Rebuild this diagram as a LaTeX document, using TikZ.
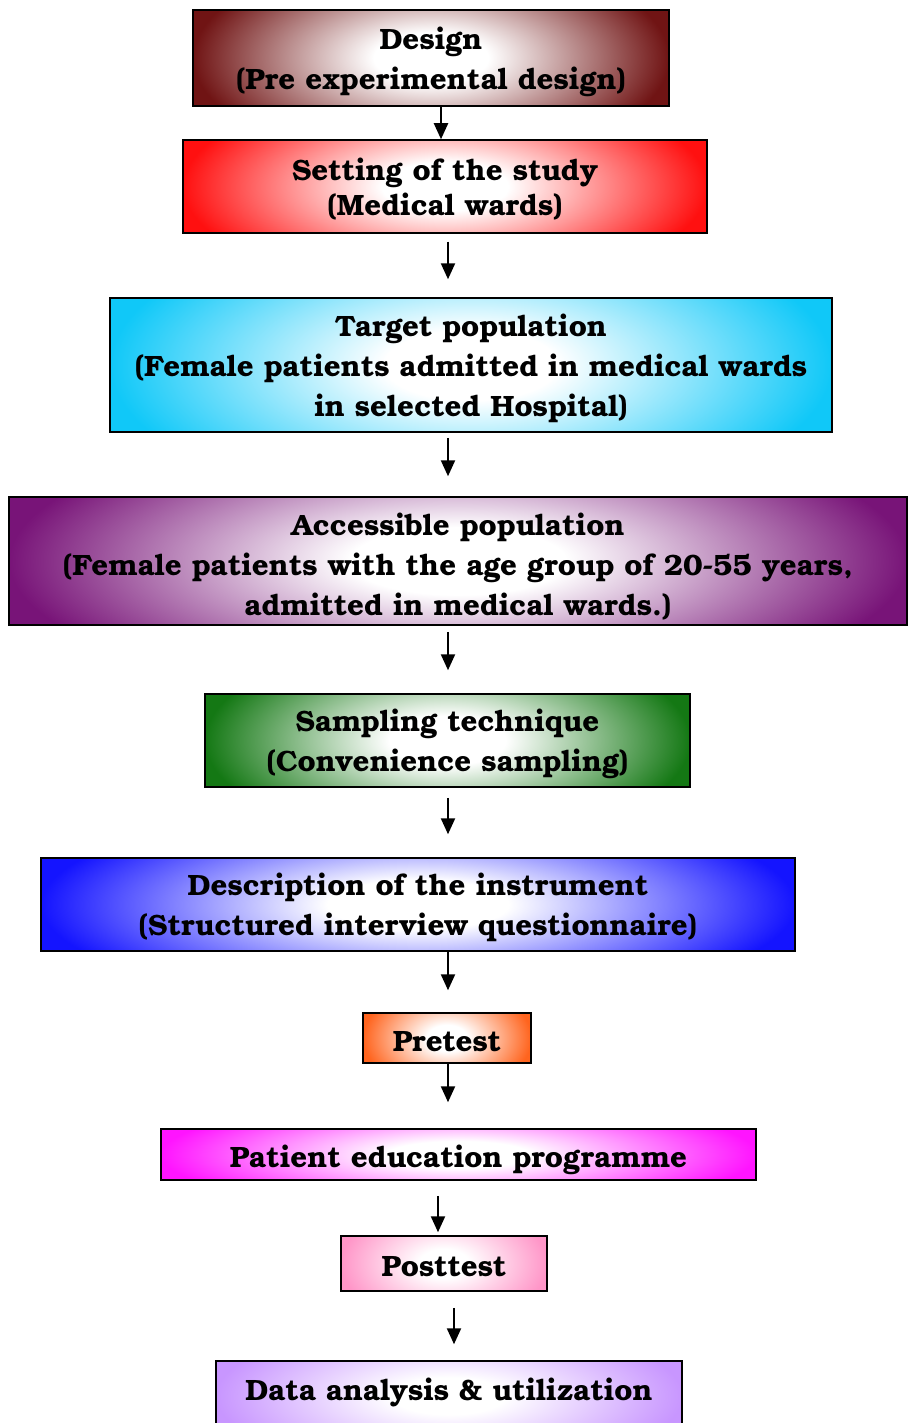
\documentclass[tikz,border=0pt]{standalone}
\usepackage{fontspec}
\setmainfont{texgyrebonum}[Extension=.otf,UprightFont=*-regular,BoldFont=*-bold]
\usetikzlibrary{arrows.meta,calc}
\pgfdeclareradialshading[boxcol]{boxshade}{\pgfpoint{0bp}{0bp}}{color(0bp)=(white); color(6bp)=(white); color(25bp)=(boxcol); color(50bp)=(boxcol)}
\definecolor{boxcol}{RGB}{255,0,0}
\definecolor{cDesign}{RGB}{112,20,20}
\definecolor{cSetting}{RGB}{255,16,16}
\definecolor{cTarget}{RGB}{16,200,248}
\definecolor{cAccess}{RGB}{120,20,120}
\definecolor{cSampling}{RGB}{20,120,20}
\definecolor{cDescr}{RGB}{20,20,255}
\definecolor{cPre}{RGB}{255,100,30}
\definecolor{cEdu}{RGB}{255,20,255}
\definecolor{cPost}{RGB}{255,150,200}
\definecolor{cData}{RGB}{200,150,255}
\tikzset{
  col/.code={\colorlet{boxcol}{#1}},
  box/.style={draw=black, line width=1.5pt, fill=boxcol, align=center, inner sep=0pt,
    text depth=0pt,
    font=\bfseries\fontsize{29.4}{40}\selectfont,
    path picture={\shade[shading=boxshade]
      ($(path picture bounding box.south west)!-0.6!(path picture bounding box.north west)$)
      rectangle
      ($(path picture bounding box.north east)!-0.6!(path picture bounding box.south east)$);}},
  arr/.style={line width=2.2pt, -{Triangle[width=14pt,length=16pt]}}
}
\begin{document}
\begin{tikzpicture}[x=1pt,y=-1pt]
\path[use as bounding box] (0,0) rectangle (908,1423);
\node[box,col=cDesign,minimum width=476pt,minimum height=96pt] (design) at (431,58) {Design\\(Pre experimental design)};
\node[box,col=cSetting,minimum width=524pt,minimum height=93pt,font=\bfseries\fontsize{29.4}{35}\selectfont] (setting) at (445,186.5) {Setting of the study\\(Medical wards)};
\node[box,col=cTarget,minimum width=722pt,minimum height=134pt] (target) at (471,365) {Target population\\(Female patients admitted in medical wards\\in selected Hospital)};
\node[box,col=cAccess,minimum width=898pt,minimum height=128pt,text height=109pt] (access) at (458,561) {Accessible population\\(Female patients with the age group of 20-55 years,\\admitted in medical wards.)};
\node[box,col=cSampling,minimum width=485pt,minimum height=93pt] (sampling) at (447.5,740.5) {Sampling technique\\(Convenience sampling)};
\node[box,col=cDescr,minimum width=754pt,minimum height=93pt] (descr) at (418,904.5) {Description of the instrument\\(Structured interview questionnaire)};
\node[box,col=cPre,minimum width=168pt,minimum height=50pt,text height=27pt] (pre) at (447,1038) {Pretest};
\node[box,col=cEdu,minimum width=595pt,minimum height=51pt,text height=25pt] (edu) at (458.5,1154.5) {Patient education programme};
\node[box,col=cPost,minimum width=206pt,minimum height=55pt,text height=25pt] (post) at (444,1263.5) {Posttest};
\node[box,col=cData,minimum width=466pt,minimum height=70pt,text depth=13pt] (data) at (449,1396) {Data analysis \& utilization};
\coordinate (xa) at (441,0);
\coordinate (xb) at (448,0);
\coordinate (xc) at (438,0);
\coordinate (xd) at (454,0);
\draw[arr] (design.south -| xa) -- (setting.north -| xa);
\draw[arr,shorten <=8pt,shorten >=18pt] (setting.south -| xb) -- (target.north -| xb);
\draw[arr,shorten <=5pt,shorten >=20pt] (target.south -| xb) -- (access.north -| xb);
\draw[arr,shorten <=6pt,shorten >=23pt] (access.south -| xb) -- (sampling.north -| xb);
\draw[arr,shorten <=10pt,shorten >=23pt] (sampling.south -| xb) -- (descr.north -| xb);
\draw[arr,shorten >=22pt] (descr.south -| xb) -- (pre.north -| xb);
\draw[arr,shorten >=26pt] (pre.south -| xb) -- (edu.north -| xb);
\draw[arr,shorten <=15pt,shorten >=3pt] (edu.south -| xc) -- (post.north -| xc);
\draw[arr,shorten <=16pt,shorten >=16pt] (post.south -| xd) -- (data.north -| xd);
\end{tikzpicture}
\end{document}
